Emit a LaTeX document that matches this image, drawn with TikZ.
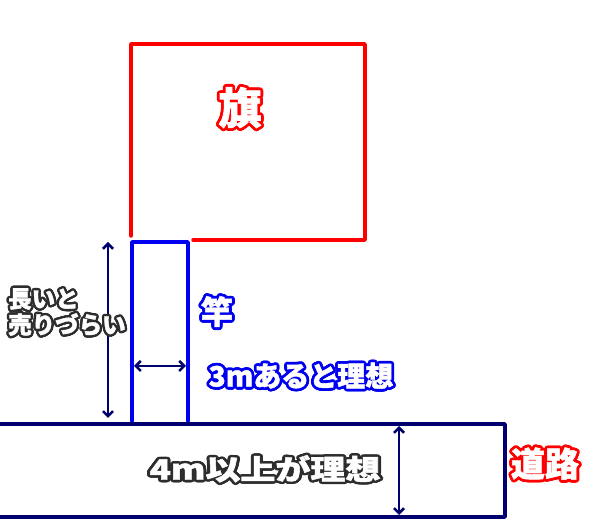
\documentclass[tikz,border=0pt]{standalone}
\usepackage{fontspec}
\newfontfamily\jp{Noto Sans CJK JP}[BoldFeatures={FakeBold=1.5}]
\usepackage[copies]{contour}
\usetikzlibrary{arrows.meta}
\definecolor{navy}{RGB}{0,0,110}
\definecolor{flagred}{RGB}{255,0,0}
\definecolor{poleblue}{RGB}{0,0,240}
\definecolor{outgray}{RGB}{45,45,45}
\tikzset{
  flagline/.style={draw=flagred, line width=3.5pt, line cap=round, line join=round},
  poleline/.style={draw=poleblue, line width=3.5pt, line cap=round, line join=round},
  roadline/.style={draw=navy, line width=3.5pt, line join=round},
  dimarrow/.style={draw=navy, line width=2.5pt, {Straight Barb[length=5pt,width=10pt]}-{Straight Barb[length=5pt,width=10pt]}},
  lbl/.style={inner sep=0pt, font=\jp\bfseries},
}
\begin{document}
\begin{tikzpicture}[x=1pt,y=-1pt]
\useasboundingbox (0,0) rectangle (606,526);
% flag lot
\coordinate (fA) at (131,236);
\coordinate (fB) at (131,44);
\coordinate (fC) at (365,44);
\coordinate (fD) at (365,240);
\coordinate (fE) at (193,240);
\draw[flagline] (fA) -- (fB) -- (fC) -- (fD) -- (fE);
% pole
\coordinate (pA) at (132,421);
\coordinate (pB) at (132,242);
\coordinate (pC) at (188,242);
\coordinate (pD) at (188,421);
\draw[poleline] (pA) -- (pB) -- (pC) -- (pD);
% road
\coordinate (rA) at (-5,424);
\coordinate (rB) at (505,424);
\coordinate (rC) at (505,517);
\coordinate (rD) at (-5,517);
\draw[roadline] (rA) -- (rB) -- (rC) -- (rD);
% dimension arrows
\coordinate (lt) at (108,242);
\coordinate (lb) at (108,418);
\draw[dimarrow] (lt) -- (lb);
\coordinate (wl) at (134,366);
\coordinate (wr) at (186,366);
\draw[dimarrow] (wl) -- (wr);
\coordinate (rt) at (399,426);
\coordinate (rb) at (399,515);
\draw[dimarrow] (rt) -- (rb);
% labels
\contourlength{2.8pt}
\contournumber{16}
\node[lbl, font=\jp\bfseries\fontsize{43}{43}\selectfont] (hata) at (240,109) {\color{white}\contour{flagred}{旗}};
\node[lbl, font=\jp\bfseries\fontsize{32}{32}\selectfont] (sao) at (217,313) {\color{white}\contour{poleblue}{竿}};
\node[lbl, font=\jp\bfseries\fontsize{28}{28}\selectfont] (w3) at (301,377) {\color{white}\contour{poleblue}{3mあると理想}};
\node[lbl, font=\jp\bfseries\fontsize{34}{34}\selectfont] (doro) at (545,465) {\color{white}\contour{flagred}{道路}};
\contourlength{2.4pt}
\node[lbl, font=\jp\bfseries\fontsize{28}{28}\selectfont] (w4) at (265,470) {\scalebox{1.25}[1]{\color{white}\contour{outgray}{4m以上が理想}}};
\node[lbl, font=\jp\bfseries\fontsize{23.5}{24.5}\selectfont, align=left, anchor=north west] (long) at (8,288) {\color{white}\contour{outgray}{長いと}\\\color{white}\contour{outgray}{売りづらい}};
\end{tikzpicture}
\end{document}
